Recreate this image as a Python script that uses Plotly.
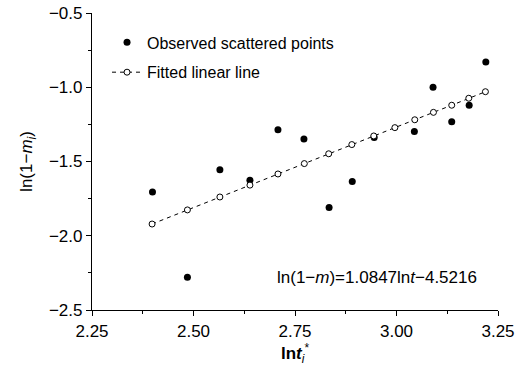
import plotly.graph_objects as go

# Observed scattered points
obs_x = [2.399, 2.485, 2.565, 2.639, 2.708, 2.772, 2.834, 2.891, 2.945, 3.044, 3.090, 3.136, 3.179, 3.220]
obs_y = [-1.706, -2.280, -1.556, -1.626, -1.287, -1.348, -1.809, -1.635, -1.339, -1.298, -1.000, -1.233, -1.121, -0.830]

# Fitted linear line points
fit_x = [2.398, 2.485, 2.565, 2.639, 2.708, 2.773, 2.833, 2.890, 2.944, 2.996, 3.045, 3.091, 3.136, 3.178, 3.219]
fit_y = [-1.921, -1.826, -1.739, -1.659, -1.584, -1.514, -1.448, -1.386, -1.328, -1.272, -1.219, -1.169, -1.121, -1.074, -1.030]

x_ticks = [2.25, 2.50, 2.75, 3.00, 3.25]
x_ticklabels = ["2.25", "2.50", "2.75", "3.00", "3.25"]
y_ticks = [-0.5, -1.0, -1.5, -2.0, -2.5]
y_ticklabels = ["\u22120.5", "\u22121.0", "\u22121.5", "\u22122.0", "\u22122.5"]

FONT = "Liberation Sans, Arial, sans-serif"

fig = go.Figure()
fig.add_trace(go.Scatter(
    x=obs_x, y=obs_y, mode="markers", name="Observed scattered points",
    legendgroup="a",
    marker=dict(color="black", size=7, symbol="circle"),
))
fig.add_trace(go.Scatter(
    x=fit_x, y=fit_y, mode="lines+markers", name="Fitted linear line",
    legendgroup="b",
    line=dict(color="black", width=1, dash="4px,4px"),
    marker=dict(color="white", size=6, symbol="circle",
                line=dict(color="black", width=1)),
))

fig.add_annotation(
    x=2.951, y=-2.28, xref="x", yref="y",
    text="ln(1\u2212<i>m</i>)=1.0847ln<i>t</i>\u22124.5216",
    showarrow=False, font=dict(family=FONT, size=17, color="black"),
)

fig.update_layout(
    width=521, height=368,
    margin=dict(l=92, r=23, t=13, b=58),
    paper_bgcolor="white", plot_bgcolor="white",
    font=dict(family=FONT, size=17, color="black"),
    showlegend=True,
    legend=dict(
        x=0.037, y=0.958, xanchor="left", yanchor="top",
        bgcolor="rgba(0,0,0,0)", font=dict(family=FONT, size=16, color="black"),
        tracegroupgap=6, itemwidth=30,
    ),
    xaxis=dict(
        range=[2.25, 3.25], tickvals=x_ticks, ticktext=x_ticklabels, automargin=False,
        showgrid=False, zeroline=False, showline=True, linecolor="black", linewidth=1.3,
        ticks="outside", ticklen=5, tickwidth=1, tickcolor="black",
        minor=dict(dtick=0.125, tick0=2.25, ticks="outside", ticklen=3, tickcolor="black", showgrid=False),
        tickfont=dict(family=FONT, size=17), ticklabeloverflow="allow",
        title=dict(text="<b>ln<i>t</i></b><sub><i>i</i></sub><sup>*</sup>",
                   font=dict(family=FONT, size=17), standoff=7),
    ),
    yaxis=dict(
        range=[-2.5, -0.5], tickvals=y_ticks, ticktext=y_ticklabels, automargin=False,
        showgrid=False, zeroline=False, showline=True, linecolor="black", linewidth=1.3,
        ticks="outside", ticklen=5, tickwidth=1, tickcolor="black",
        minor=dict(dtick=0.25, tick0=-2.5, ticks="outside", ticklen=3, tickcolor="black", showgrid=False),
        tickfont=dict(family=FONT, size=17), ticklabeloverflow="allow",
        title=dict(text="ln(1\u2212<i>m</i><sub><i>i</i></sub>)",
                   font=dict(family=FONT, size=17), standoff=11),
    ),
)

# remove the browser's default 8px body margin so the figure fills the window
fig.write_html("out.html", config={"displayModeBar": False},
               post_script="document.body.style.margin='0';")
